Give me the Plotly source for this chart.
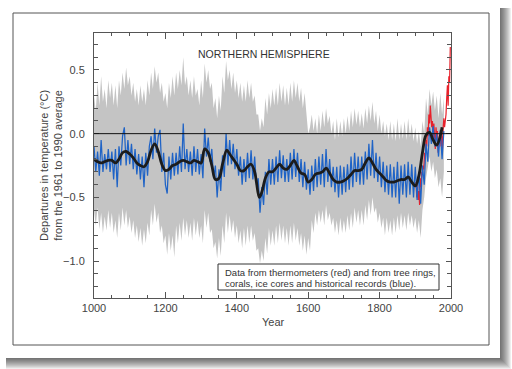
import plotly.graph_objects as go

# ---------------- data ----------------
years5 = list(range(1000, 1985, 5))

proxy_blue = [
    -0.10, -0.30, -0.14, -0.33, -0.05, -0.30, -0.16, -0.28, -0.12, -0.30,
    -0.14, -0.36, -0.12, -0.42, -0.10, -0.25, -0.02, 0.05, -0.25, -0.05,
    -0.24, -0.08, -0.28, -0.12, -0.32, -0.16, -0.36, -0.18, -0.42, -0.15,
    -0.33, -0.10, -0.02, -0.20, 0.04, -0.15, -0.02, 0.03, -0.30, -0.15,
    -0.40, -0.47, -0.18, -0.36, -0.15, -0.33, -0.15, -0.32, -0.10, -0.30,
    0.08, -0.28, -0.12, -0.30, -0.14, -0.33, -0.10, -0.30, -0.12, -0.32,
    -0.16, -0.35, 0.04, -0.18, -0.03, -0.22, -0.12, -0.35, -0.25, -0.50,
    -0.28, -0.45, -0.17, -0.34, 0.00, -0.25, -0.05, -0.24, -0.08, -0.28,
    -0.12, -0.33, -0.18, -0.40, -0.20, -0.38, -0.15, -0.35, -0.13, -0.36,
    -0.18, -0.40, -0.35, -0.62, -0.42, -0.56, -0.30, -0.48, -0.20, -0.40,
    -0.20, -0.40, -0.18, -0.38, -0.13, -0.35, -0.17, -0.38, -0.20, -0.38,
    -0.15, -0.36, -0.12, -0.34, -0.15, -0.38, -0.20, -0.42, -0.22, -0.44,
    -0.28, -0.48, -0.25, -0.45, -0.20, -0.42, -0.18, -0.40, -0.16, -0.42,
    -0.12, -0.38, -0.20, -0.42, -0.26, -0.46, -0.26, -0.50, -0.25, -0.48,
    -0.26, -0.46, -0.24, -0.44, -0.18, -0.42, -0.15, -0.38, -0.18, -0.40,
    -0.18, -0.40, -0.14, -0.36, -0.08, -0.33, -0.05, -0.35, -0.15, -0.38,
    -0.18, -0.42, -0.22, -0.46, -0.25, -0.48, -0.24, -0.50, -0.26, -0.50,
    -0.22, -0.55, -0.25, -0.48, -0.24, -0.50, -0.22, -0.48, -0.24, -0.50,
    -0.26, -0.52, -0.30, -0.55, -0.25, -0.40, -0.08, -0.22, 0.05, -0.08,
    0.06, -0.10, 0.00, -0.18, 0.03, -0.20, 0.02,
]

band_upper = [
    0.30, 0.18, 0.40, 0.22, 0.45, 0.25, 0.35, 0.20, 0.42, 0.28,
    0.40, 0.22, 0.38, 0.20, 0.42, 0.30, 0.48, 0.35, 0.52, 0.38,
    0.45, 0.30, 0.40, 0.25, 0.35, 0.22, 0.38, 0.25, 0.35, 0.22,
    0.42, 0.30, 0.48, 0.35, 0.53, 0.40, 0.48, 0.32, 0.40, 0.25,
    0.32, 0.20, 0.40, 0.28, 0.45, 0.30, 0.48, 0.35, 0.50, 0.38,
    0.60, 0.38, 0.45, 0.30, 0.42, 0.28, 0.45, 0.30, 0.35, 0.22,
    0.42, 0.28, 0.55, 0.40, 0.50, 0.35, 0.40, 0.20, 0.28, 0.12,
    0.30, 0.18, 0.45, 0.32, 0.57, 0.42, 0.50, 0.35, 0.48, 0.32,
    0.42, 0.28, 0.40, 0.25, 0.38, 0.25, 0.42, 0.28, 0.40, 0.25,
    0.30, 0.15, 0.15, 0.02, 0.12, 0.05, 0.28, 0.15, 0.32, 0.20,
    0.35, 0.22, 0.36, 0.22, 0.40, 0.25, 0.38, 0.22, 0.36, 0.22,
    0.40, 0.25, 0.42, 0.28, 0.40, 0.25, 0.36, 0.20, 0.32, 0.15,
    0.00, 0.05, 0.15, 0.02, 0.12, 0.00, 0.15, 0.02, 0.18, 0.05,
    0.20, 0.08, 0.14, 0.00, 0.10, -0.05, 0.12, -0.03, 0.10, -0.02,
    0.12, 0.00, 0.14, 0.02, 0.18, 0.05, 0.20, 0.07, 0.18, 0.05,
    0.16, 0.04, 0.20, 0.08, 0.22, 0.10, 0.25, 0.08, 0.18, 0.02,
    0.15, 0.00, 0.10, -0.02, 0.08, -0.05, 0.10, -0.05, 0.08, -0.06,
    0.12, -0.05, 0.08, -0.04, 0.10, -0.05, 0.12, -0.03, 0.08, -0.06,
    0.05, -0.08, 0.02, -0.10, 0.10, 0.00, 0.28, 0.15, 0.35, 0.22,
    0.33, 0.18, 0.30, 0.12, 0.32, 0.15, 0.28,
]

band_lower = [
    -0.60, -0.72, -0.58, -0.75, -0.62, -0.78, -0.65, -0.76, -0.60, -0.74,
    -0.62, -0.78, -0.68, -0.82, -0.62, -0.76, -0.58, -0.72, -0.60, -0.74,
    -0.65, -0.78, -0.68, -0.82, -0.72, -0.85, -0.74, -0.88, -0.75, -0.86,
    -0.70, -0.80, -0.60, -0.72, -0.55, -0.70, -0.62, -0.78, -0.72, -0.86,
    -0.80, -0.95, -0.78, -0.92, -0.80, -0.97, -0.72, -0.86, -0.70, -0.84,
    -0.66, -0.80, -0.68, -0.82, -0.70, -0.84, -0.66, -0.80, -0.68, -0.82,
    -0.72, -0.86, -0.60, -0.74, -0.62, -0.78, -0.75, -0.90, -0.85, -0.98,
    -0.82, -0.96, -0.72, -0.86, -0.62, -0.78, -0.64, -0.78, -0.68, -0.82,
    -0.72, -0.86, -0.76, -0.90, -0.74, -0.88, -0.72, -0.86, -0.72, -0.84,
    -0.78, -0.92, -0.90, -1.02, -0.92, -1.00, -0.82, -0.94, -0.74, -0.88,
    -0.76, -0.88, -0.72, -0.86, -0.70, -0.84, -0.72, -0.86, -0.74, -0.88,
    -0.72, -0.86, -0.70, -0.84, -0.74, -0.88, -0.78, -0.92, -0.80, -0.95,
    -0.82, -0.92, -0.68, -0.78, -0.62, -0.72, -0.60, -0.70, -0.60, -0.72,
    -0.56, -0.68, -0.62, -0.72, -0.66, -0.78, -0.68, -0.80, -0.66, -0.78,
    -0.68, -0.78, -0.64, -0.76, -0.62, -0.74, -0.58, -0.70, -0.60, -0.72,
    -0.60, -0.72, -0.56, -0.68, -0.52, -0.64, -0.50, -0.62, -0.58, -0.70,
    -0.62, -0.74, -0.66, -0.80, -0.66, -0.78, -0.68, -0.80, -0.66, -0.78,
    -0.64, -0.76, -0.62, -0.74, -0.64, -0.76, -0.62, -0.72, -0.64, -0.74,
    -0.66, -0.78, -0.68, -0.82, -0.60, -0.50, -0.35, -0.25, -0.18, -0.30,
    -0.22, -0.35, -0.28, -0.42, -0.35, -0.50, -0.30,
]

smooth_years = [
    1000, 1010, 1020, 1030, 1040, 1050, 1060, 1070, 1080, 1090,
    1100, 1110, 1120, 1130, 1140, 1150, 1160, 1170, 1180, 1190,
    1200, 1210, 1220, 1230, 1240, 1250, 1260, 1270, 1280, 1290,
    1300, 1310, 1320, 1330, 1340, 1350, 1360, 1372, 1380, 1390,
    1400, 1410, 1420, 1430, 1440, 1450, 1455, 1463, 1470, 1480,
    1490, 1500, 1510, 1520, 1530, 1540, 1550, 1560, 1570, 1580,
    1590, 1600, 1610, 1620, 1630, 1640, 1650, 1660, 1670, 1680,
    1690, 1700, 1710, 1720, 1730, 1740, 1750, 1760, 1770, 1780,
    1790, 1800, 1810, 1820, 1830, 1840, 1850, 1860, 1870, 1880,
    1890, 1900, 1910, 1920, 1930, 1940, 1950, 1960, 1970, 1975,
]
smooth_vals = [
    -0.20, -0.22, -0.23, -0.22, -0.21, -0.21, -0.23, -0.20, -0.15, -0.14,
    -0.16, -0.19, -0.23, -0.25, -0.26, -0.22, -0.13, -0.08, -0.14, -0.24,
    -0.29, -0.28, -0.25, -0.24, -0.22, -0.21, -0.22, -0.23, -0.21, -0.22,
    -0.23, -0.12, -0.15, -0.25, -0.36, -0.35, -0.24, -0.13, -0.16, -0.20,
    -0.24, -0.29, -0.29, -0.26, -0.24, -0.30, -0.38, -0.50, -0.46, -0.35,
    -0.30, -0.30, -0.27, -0.24, -0.27, -0.28, -0.25, -0.21, -0.26, -0.31,
    -0.32, -0.38, -0.36, -0.32, -0.31, -0.30, -0.27, -0.31, -0.36, -0.38,
    -0.38, -0.37, -0.35, -0.32, -0.29, -0.29, -0.28, -0.23, -0.19, -0.23,
    -0.28, -0.31, -0.34, -0.37, -0.38, -0.38, -0.37, -0.36, -0.36, -0.34,
    -0.38, -0.41, -0.33, -0.15, -0.01, 0.01, -0.05, -0.09, -0.02, 0.05,
]

red_years = list(range(1902, 2000, 2))
red_vals = [
    -0.38, -0.50, -0.40, -0.52, -0.45, -0.56, -0.35, -0.42, -0.30, -0.32,
    -0.25, -0.28, -0.15, -0.20, -0.05, -0.10, 0.05, -0.02, 0.15, 0.08,
    0.22, 0.12, 0.05, 0.10, -0.05, 0.08, -0.02, -0.12, 0.05, -0.02,
    0.02, -0.15, -0.05, -0.08, 0.02, -0.10, -0.02, -0.12, 0.05, 0.12,
    0.05, 0.10, 0.15, 0.28, 0.38, 0.22, 0.45, 0.40, 0.68,
]

x_tick_vals = [1000, 1200, 1400, 1600, 1800, 2000]
y_tick_vals = [0.5, 0.0, -0.5, -1.0]
y_tick_text = ["0.5", "0.0", "\u22120.5", "\u22121.0"]

title_text = "NORTHERN HEMISPHERE"
note_lines = ["Data from thermometers (red) and from tree rings,",
              "corals, ice cores and historical records (blue)."]
y_title = "Departures in temperature (\u00b0C)<br>from the 1961 to 1990 average"
x_title = "Year"

# ---------------- layout geometry ----------------
W, H = 512, 369
L, R, T, B = 94, 61, 33, 71
PW, PH = W - L - R, H - T - B


def px(x):
    return (x - L) / PW


def py(y):
    return (H - B - y) / PH


fig = go.Figure()

# uncertainty band
fig.add_trace(go.Scatter(x=years5, y=band_lower, mode="lines",
                         line=dict(width=0, color="#c4c4c4"),
                         hoverinfo="skip", showlegend=False))
fig.add_trace(go.Scatter(x=years5, y=band_upper, mode="lines",
                         line=dict(width=0, color="#c4c4c4"),
                         fill="tonexty", fillcolor="#c4c4c4",
                         hoverinfo="skip", showlegend=False))
# thermometer record
fig.add_trace(go.Scatter(x=red_years, y=red_vals, mode="lines",
                         line=dict(width=1.2, color="#e8202a"),
                         showlegend=False))
# proxy record
fig.add_trace(go.Scatter(x=years5, y=proxy_blue, mode="lines",
                         line=dict(width=1.25, color="#1f63c6"),
                         showlegend=False))
# smoothed
fig.add_trace(go.Scatter(x=smooth_years, y=smooth_vals, mode="lines",
                         line=dict(width=2.8, color="#1c1c1c", shape="spline",
                                   smoothing=1.0),
                         showlegend=False))

tickfont = dict(family="Liberation Sans, Arial, sans-serif", size=11, color="#444")
axcol = "#555"

fig.update_xaxes(range=[1000, 2000], tickvals=x_tick_vals, ticks="inside",
                 ticklen=6, tickcolor=axcol, showline=True, linecolor=axcol,
                 linewidth=1, mirror="ticks", showgrid=False, zeroline=False,
                 tickfont=tickfont,
                 minor=dict(dtick=50, tick0=1000, ticks="inside", ticklen=3,
                            tickcolor=axcol, showgrid=False))
fig.update_yaxes(range=[-1.29, 0.79], tickvals=y_tick_vals,
                 ticktext=y_tick_text,
                 ticks="inside", ticklen=5, tickcolor=axcol, showline=True,
                 linecolor=axcol, linewidth=1, mirror="ticks", showgrid=False,
                 zeroline=False, tickfont=tickfont, ticklabelstandoff=6,
                 minor=dict(dtick=0.1, tick0=0, ticks="inside", ticklen=4,
                            tickcolor=axcol, showgrid=False))

shapes = []
# drop shadow of card
for s in range(1, 12):
    shapes.append(dict(type="rect", xref="paper", yref="paper", layer="below",
                       x0=px(6), x1=px(500 + s), y0=py(358 + s), y1=py(8),
                       fillcolor="rgba(0,0,0,0.065)", line=dict(width=0)))
# card
shapes.append(dict(type="rect", xref="paper", yref="paper", layer="below",
                   x0=px(0), x1=px(500), y0=py(358), y1=py(0),
                   fillcolor="white", line=dict(width=0)))
# frame
shapes.append(dict(type="rect", xref="paper", yref="paper", layer="below",
                   x0=px(13), x1=px(489), y0=py(345), y1=py(13),
                   fillcolor="rgba(0,0,0,0)", line=dict(color="#555", width=1)))
# zero reference line drawn over the band
shapes.append(dict(type="line", xref="paper", yref="y", layer="above",
                   x0=0, x1=1, y0=0, y1=0, line=dict(color="#111", width=1)))
# note box
shapes.append(dict(type="rect", xref="paper", yref="paper", layer="above",
                   x0=px(218), x1=px(439), y0=py(290), y1=py(264),
                   fillcolor="white", line=dict(color="#333", width=1)))

textfont = "Liberation Sans, Arial, sans-serif"
annotations = [
    dict(text=title_text, xref="paper", yref="paper",
         x=px(264), y=py(54), xanchor="center", yanchor="middle",
         showarrow=False, font=dict(family=textfont, size=10.5, color="#333")),
    dict(text=note_lines[0], xref="paper", yref="paper", x=px(223), y=py(272),
         xanchor="left", yanchor="middle", showarrow=False,
         font=dict(family=textfont, size=9.5, color="#333")),
    dict(text=note_lines[1], xref="paper", yref="paper", x=px(223), y=py(283.5),
         xanchor="left", yanchor="middle", showarrow=False,
         font=dict(family=textfont, size=9.5, color="#333")),
    dict(text=y_title,
         xref="paper", yref="paper", x=px(51), y=py(166), textangle=-90,
         xanchor="center", yanchor="middle", showarrow=False,
         font=dict(family=textfont, size=11, color="#444")),
    dict(text=x_title, xref="paper", yref="paper", x=px(273), y=py(322),
         xanchor="center", yanchor="middle", showarrow=False,
         font=dict(family=textfont, size=11, color="#444")),
]

fig.update_layout(width=W, height=H, margin=dict(l=L, r=R, t=T, b=B),
                  paper_bgcolor="white", plot_bgcolor="rgba(0,0,0,0)",
                  shapes=shapes, annotations=annotations, showlegend=False)

fig.write_html("out.html", config={"displayModeBar": False},
               post_script="document.body.style.margin='0px';"
                           "document.body.style.overflow='hidden';")
